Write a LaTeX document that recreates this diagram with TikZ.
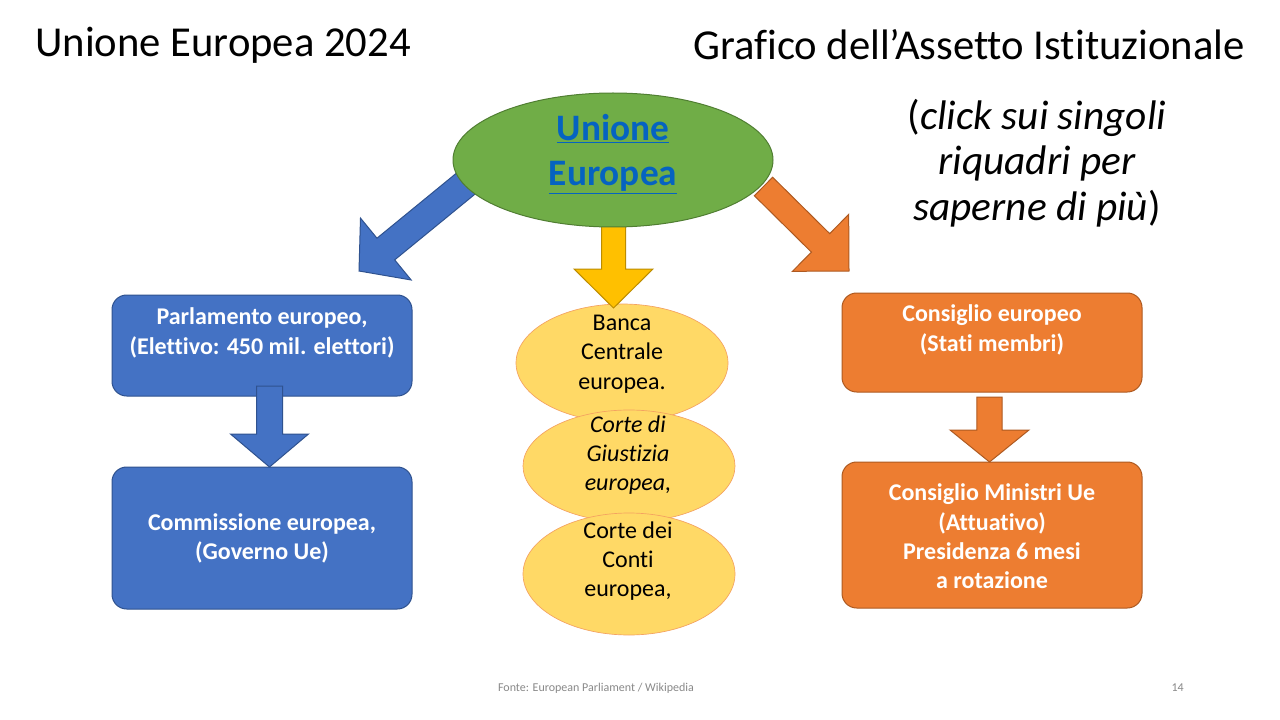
\documentclass[tikz,border=0pt]{standalone}
\usepackage{fontspec}
\setmainfont{Carlito}[Ligatures=CommonOff]
\usepackage{tikz}
\usetikzlibrary{calc,shapes.geometric}

\definecolor{ueblue}{HTML}{4472C4}
\definecolor{ueblueline}{HTML}{2F528F}
\definecolor{ueorange}{HTML}{ED7D31}
\definecolor{ueorangeline}{HTML}{AE5A21}
\definecolor{uegreen}{HTML}{70AD47}
\definecolor{uegreenline}{HTML}{507E32}
\definecolor{ueyellow}{HTML}{FFC000}
\definecolor{ueyellowline}{HTML}{BC8C00}
\definecolor{uecourt}{HTML}{FFD966}
\definecolor{uecourtline}{HTML}{F4A261}
\definecolor{uelink}{HTML}{0563C1}
\definecolor{uefoot}{HTML}{898989}

\begin{document}
\begin{tikzpicture}[x=0.75pt, y=-0.75pt,
		box/.style      = {rounded corners=11pt, line width=0.75pt, minimum width=225pt, inner sep=0pt},
		bluebox/.style  = {box, draw=ueblueline, fill=ueblue},
		orangebox/.style= {box, draw=ueorangeline, fill=ueorange},
		court/.style    = {ellipse, draw=uecourtline, fill=uecourt, line width=0.5pt, inner sep=0pt, minimum width=159pt},
		boxtext/.style  = {text=white, align=center, font=\bfseries\fontsize{18}{22}\selectfont},
		courttext/.style= {align=center, font=\fontsize{18}{22}\selectfont},
		title/.style    = {inner sep=0pt, font=\fontsize{32}{38}\selectfont},
		foot/.style     = {inner sep=0pt, text=uefoot, font=\fontsize{9}{11}\selectfont}]
		
		\fill[white] (0,0) rectangle (1280,720);
		\useasboundingbox (0,0) rectangle (1280,720);
		
		% Headings
		\node[title, anchor=west] (t1) at (35,45) {Unione Europea 2024};
		\node[title, anchor=east] (t2) at (1245,45) {Grafico dell’Assetto Istituzionale};
		\node[align=center, inner sep=0pt, font=\fontsize{31}{34}\selectfont] (hint) at (1037,163)
			{(\textit{click sui singoli}\\\textit{riquadri per}\\\textit{saperne di più})};
		
		% Left column, blue
		\node[bluebox, minimum height=75.75pt] (pe) at (262,345.5) {};
		\node[bluebox, minimum height=106.5pt] (ce) at (262,538) {};
		\node[boxtext] (pe-t) at (262,333) {Parlamento europeo,\\(Elettivo: 450 mil. elettori)};
		\node[boxtext] (ce-t) at (262,538.5) {Commissione europea,\\(Governo Ue)};
		
		% Right column, orange
		\node[orangebox, minimum height=74.25pt] (co) at (992,342.5) {};
		\node[orangebox, minimum height=109.5pt] (cm) at (992,535) {};
		\node[boxtext] (co-t) at (992,330) {Consiglio europeo\\(Stati membri)};
		\node[boxtext] (cm-t) at (992,536.5) {Consiglio Ministri Ue\\(Attuativo)\\Presidenza 6 mesi\\a rotazione};
		
		% Middle column, the three ellipses
		\node[court, minimum height=88.5pt] (bce) at (622,363) {};
		\node[court, minimum height=84pt] (cgu) at (629,466) {};
		\node[court, minimum height=91.5pt] (cdc) at (629,574) {};
		\node[courttext] (bce-t) at (622,354) {Banca\\Centrale\\europea.};
		\node[courttext] (cgu-t) at (628,455) {\itshape Corte di\\\itshape Giustizia\\\itshape europea,};
		\node[courttext] (cdc-t) at (628,561) {Corte dei\\Conti\\europea,};
		
		% Start and tip of every block arrow
		\coordinate (ue-l) at (466.5,183);   \coordinate (pe-in) at (359,271);
		\coordinate (ue-r) at (763.5,186.5); \coordinate (co-in) at (849,271);
		\coordinate (ue-b) at (613.5,222);   \coordinate (bce-in) at (613.5,308);
		\coordinate (pe-out) at (269.5,386); \coordinate (ce-in) at (269.5,467);
		\coordinate (co-out) at (989.5,397); \coordinate (cm-in) at (989.5,462);
		
		% Block arrows: start / tip / fill / line / half shaft / half head / head length
		\foreach \s/\t/\fc/\dc/\w/\hw/\hl in {
			ue-l/pe-in/ueblue/ueblueline/10.5pt/30pt/26pt,
			ue-r/co-in/ueorange/ueorangeline/9.75pt/30pt/30pt,
			ue-b/bce-in/ueyellow/ueyellowline/9pt/29.6pt/29.25pt,
			pe-out/ce-in/ueblue/ueblueline/9.75pt/29.25pt/24.75pt,
			co-out/cm-in/ueorange/ueorangeline/9.4pt/29.6pt/24pt}
		{
			\coordinate (h) at ($(\t)!\hl!(\s)$);
			\filldraw[fill=\fc, draw=\dc, line width=0.75pt, line join=miter]
				($(\s)!\w!90:(\t)$) -- ($(h)!\w!90:(\t)$) -- ($(h)!\hw!90:(\t)$) -- (\t)
				-- ($(h)!\hw!-90:(\t)$) -- ($(h)!\w!-90:(\t)$) -- ($(\s)!\w!-90:(\t)$) -- cycle;
		}
		
		% Top of the tree
		\node[ellipse, draw=uegreenline, fill=uegreen, line width=0.75pt, inner sep=0pt,
			minimum width=240pt, minimum height=100.5pt] (ue) at (613,160) {};
		\node[align=center, text=uelink, font=\bfseries\fontsize{28}{34}\selectfont] (ue-t) at (613,154)
			{\underline{Unione}\\\underline{Europea}};
		
		% Footer
		\node[foot] (src) at (596,688) {Fonte: European Parliament / Wikipedia};
		\node[foot, anchor=east] (pg) at (1184,688) {14};
		
	\end{tikzpicture}
\end{document}
